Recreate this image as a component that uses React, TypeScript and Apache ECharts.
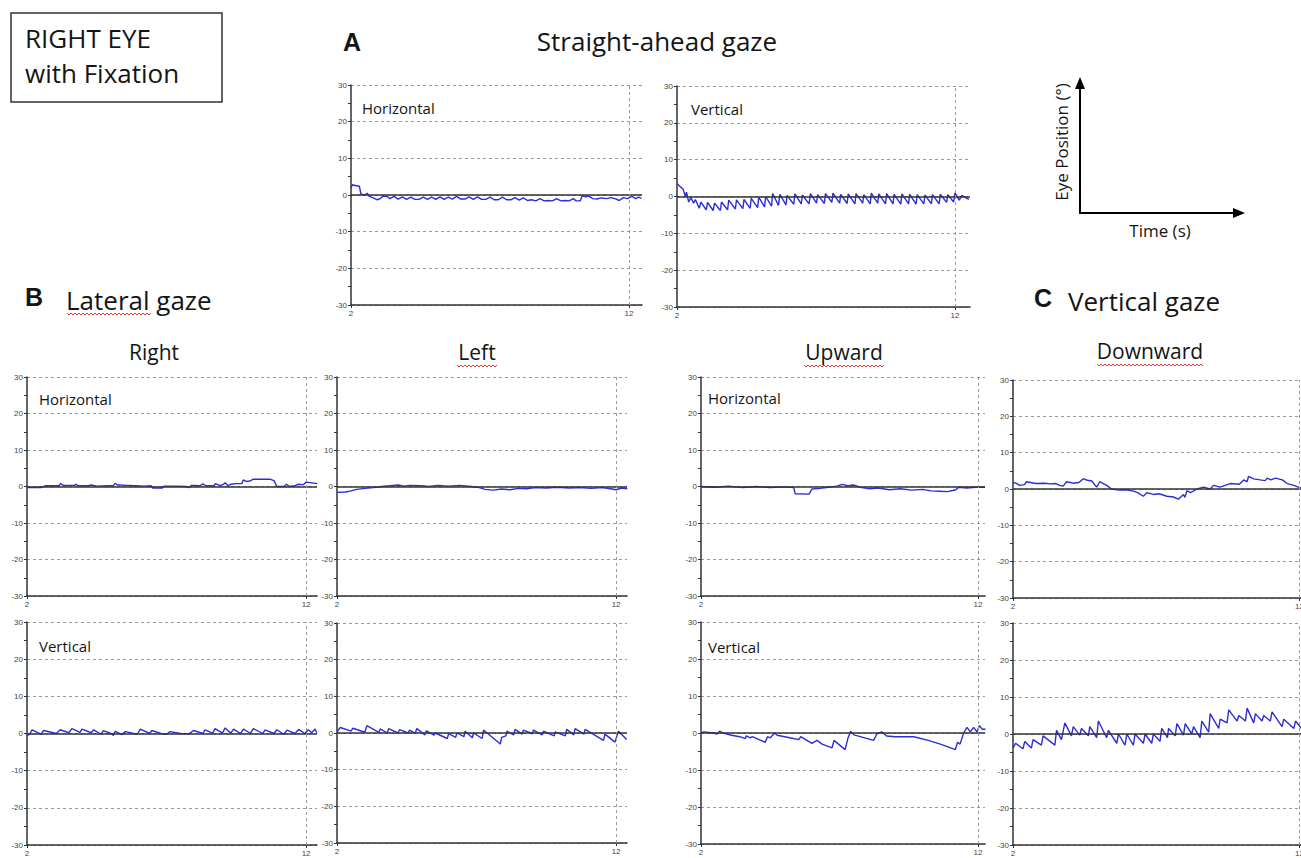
import React, { useEffect, useRef } from 'react';
import * as echarts from 'echarts';

type Pt = [number, number];

// ---- A: straight-ahead gaze ----
const straightHorizontal: Pt[] = [
  [2.0, 2.0], [2.05, 2.8], [2.15, 2.6], [2.3, 2.4], [2.36, 0.2], [2.5, 0.0], [2.58, 0.5], [2.65, -0.3],
  [2.8, -0.8], [2.95, -1.3], [3.05, -1.0], [3.15, -0.3], [3.3, -0.4], [3.4, -1.0], [3.55, -0.4], [3.7, -1.1],
  [3.85, -0.5], [4.0, -1.2], [4.15, -0.6], [4.3, -1.2], [4.45, -1.2], [4.6, -0.6], [4.75, -1.2], [4.9, -0.6],
  [5.05, -1.2], [5.2, -0.5], [5.35, -1.2], [5.5, -0.6], [5.65, -1.1], [5.8, -0.4], [5.95, -1.1], [6.1, -1.1],
  [6.25, -0.5], [6.4, -1.2], [6.55, -0.5], [6.7, -1.2], [6.85, -1.2], [7.0, -0.6], [7.15, -1.3], [7.3, -1.3],
  [7.45, -0.6], [7.6, -1.3], [7.75, -1.3], [7.9, -0.7], [8.05, -1.4], [8.2, -0.8], [8.35, -1.5], [8.5, -1.3],
  [8.65, -1.6], [8.8, -1.0], [8.95, -1.6], [9.1, -1.5], [9.25, -1.6], [9.4, -1.0], [9.55, -1.6], [9.7, -1.5],
  [9.85, -1.6], [10.0, -1.0], [10.1, -1.6], [10.25, -1.6], [10.32, -0.2], [10.45, -0.5], [10.55, -0.3],
  [10.7, -1.0], [10.85, -1.1], [11.0, -0.8], [11.2, -1.0], [11.35, -0.7], [11.5, -1.0], [11.65, -1.5],
  [11.8, -0.7], [11.95, -1.0], [12.1, -0.4], [12.25, -1.0], [12.35, -0.6], [12.45, -0.9],
];

const straightVertical: Pt[] = [
  [2.0, 3.5], [2.1, 2.8], [2.22, 2.0], [2.3, 0.0], [2.34, 1.2], [2.42, -1.5], [2.5, -0.3], [2.6, -1.8],
  [2.66, -0.8], [2.8, -3.2], [2.86, -1.5], [3.05, -3.6], [3.1, -1.6], [3.3, -3.8], [3.35, -1.8], [3.56, -3.8],
  [3.6, -1.5], [3.82, -3.6], [3.86, -1.0], [4.1, -3.4], [4.14, -0.9], [4.37, -3.3], [4.41, -0.8], [4.63, -3.2],
  [4.67, -0.5], [4.9, -3.0], [4.94, -0.2], [5.15, -2.8], [5.19, 0.0], [5.4, -2.6], [5.44, 0.8], [5.65, -2.4],
  [5.7, 0.6], [5.92, -2.3], [5.96, 0.3], [6.2, -2.1], [6.24, 0.7], [6.47, -2.0], [6.51, 0.4], [6.75, -2.0],
  [6.8, 0.8], [7.02, -1.8], [7.06, 0.5], [7.3, -1.9], [7.34, 0.8], [7.57, -1.6], [7.61, 0.9], [7.85, -1.8],
  [7.89, 0.6], [8.12, -1.9], [8.16, 0.7], [8.4, -2.0], [8.44, 0.8], [8.68, -1.8], [8.72, 0.5], [8.95, -2.0],
  [8.99, 0.9], [9.22, -1.8], [9.26, 0.7], [9.5, -2.0], [9.54, 0.8], [9.77, -2.0], [9.81, 0.6], [10.05, -2.1],
  [10.09, 0.7], [10.33, -2.0], [10.37, 0.6], [10.6, -2.1], [10.64, 0.5], [10.88, -2.0], [10.92, 0.4],
  [11.15, -2.0], [11.19, 0.5], [11.43, -2.0], [11.47, 0.6], [11.7, -1.6], [11.74, 0.5], [11.95, -1.5],
  [12.0, 1.0], [12.15, -1.0], [12.25, 0.3], [12.35, -0.2], [12.5, -0.8],
];

// ---- B: lateral gaze ----
const rightHorizontal: Pt[] = [
  [2.0, -0.3], [2.5, -0.3], [2.65, 0.2], [3.15, 0.2], [3.2, 0.8], [3.3, 0.3], [3.7, 0.3], [3.75, 0.6],
  [3.85, 0.2], [4.2, 0.2], [4.3, 0.4], [4.5, 0.1], [4.9, 0.2], [5.1, 0.2], [5.15, 0.9], [5.25, 0.4],
  [5.6, 0.3], [5.9, 0.2], [6.2, 0.1], [6.45, 0.2], [6.5, -0.4], [6.85, -0.4], [6.9, 0.1], [7.3, 0.1],
  [7.7, 0.0], [7.8, -0.3], [7.9, 0.3], [8.2, 0.2], [8.3, 0.7], [8.4, 0.2], [8.7, 0.2], [8.75, 0.8],
  [8.9, 0.3], [9.0, 0.4], [9.1, 1.0], [9.2, 0.2], [9.3, 0.6], [9.5, 0.8], [9.7, 0.8], [9.75, 1.8],
  [9.85, 1.4], [10.0, 1.5], [10.1, 2.0], [10.7, 2.0], [10.85, 1.6], [10.95, 0.0], [11.2, 0.0], [11.3, 0.6],
  [11.4, 0.0], [11.6, 0.2], [11.7, 0.6], [11.9, 0.5], [12.0, 1.2], [12.2, 1.0], [12.4, 0.8],
];

const rightVertical: Pt[] = [
  [2.0, -0.5], [2.1, -0.2], [2.18, 1.0], [2.5, -0.2], [2.6, 0.8], [3.05, 0.0], [3.19, 1.0], [3.5, 0.2],
  [3.61, 1.3], [3.9, 0.3], [3.97, 1.2], [4.3, 0.2], [4.39, 1.0], [4.65, -0.2], [4.74, 0.8], [5.0, 0.0],
  [5.1, -0.5], [5.16, 0.6], [5.4, -0.3], [5.52, 0.5], [5.95, -0.2], [6.06, 1.2], [6.4, 0.0], [6.47, 0.8],
  [6.8, 0.0], [7.0, -0.2], [7.13, 0.5], [7.5, 0.0], [7.8, -0.1], [7.97, 0.8], [8.3, 0.0], [8.38, 1.0],
  [8.65, 0.1], [8.74, 1.3], [9.0, 0.1], [9.1, 1.5], [9.3, 0.1], [9.4, 1.2], [9.65, 0.0], [9.76, 1.2],
  [10.0, 0.0], [10.11, 1.3], [10.45, 0.0], [10.53, 1.0], [10.85, 0.0], [10.95, 1.0], [11.2, -0.2],
  [11.31, 0.9], [11.6, 0.0], [11.73, 1.1], [11.95, 0.0], [12.08, 1.0], [12.2, 0.2], [12.32, 1.2], [12.38, 0.2],
];

const leftHorizontal: Pt[] = [
  [2.0, -1.6], [2.3, -1.5], [2.5, -1.2], [2.7, -0.8], [3.0, -0.5], [3.3, -0.3], [3.6, 0.0], [3.9, 0.2],
  [4.2, 0.4], [4.4, 0.1], [4.6, 0.3], [5.0, 0.2], [5.3, 0.0], [5.6, 0.3], [6.0, 0.1], [6.4, 0.3],
  [6.8, 0.0], [7.1, -0.3], [7.3, -0.8], [7.6, -1.0], [7.9, -0.7], [8.2, -0.9], [8.5, -0.5], [8.8, -0.6],
  [9.1, -0.3], [9.5, -0.4], [9.9, -0.2], [10.3, -0.4], [10.7, -0.3], [11.1, -0.5], [11.5, -0.3],
  [11.8, -0.6], [12.0, -0.9], [12.2, -0.4], [12.4, -0.6],
];

const leftVertical: Pt[] = [
  [2.0, 0.3], [2.12, 1.5], [2.5, 0.5], [2.57, 1.3], [3.0, 0.2], [3.07, 2.0], [3.5, 0.2], [3.55, 1.1],
  [3.8, 0.0], [3.85, 1.2], [4.18, 0.0], [4.24, 0.9], [4.55, 0.0], [4.6, 0.8], [4.8, -0.1], [4.86, 1.2],
  [5.15, -0.5], [5.2, 0.6], [5.48, -0.6], [5.52, 0.0], [5.95, -1.5], [6.0, -0.2], [6.25, -1.2], [6.3, 0.0],
  [6.55, -1.0], [6.59, 0.5], [6.85, -1.3], [6.89, 0.0], [7.2, -1.5], [7.25, 0.8], [7.85, -3.0], [7.9, -1.2],
  [8.05, -0.8], [8.09, 0.5], [8.33, -0.5], [8.38, 1.0], [8.63, -0.3], [8.68, 0.8], [9.0, -0.2], [9.04, 0.8],
  [9.35, -0.5], [9.4, 0.5], [9.78, -0.8], [9.82, 0.3], [10.18, -0.8], [10.23, 1.0], [10.48, -0.5],
  [10.53, 1.2], [10.85, -0.3], [10.89, 1.0], [11.55, -2.0], [11.6, -0.3], [11.96, -2.5], [12.08, 0.5],
  [12.38, -1.8],
];

// ---- C: vertical gaze ----
const upwardHorizontal: Pt[] = [
  [2.0, 0.0], [2.5, -0.2], [3.0, 0.1], [3.5, -0.3], [4.0, 0.0], [4.5, -0.3], [5.0, -0.1], [5.35, -0.3],
  [5.4, -2.0], [5.9, -2.1], [6.0, -0.7], [6.3, -0.5], [6.6, -0.2], [6.9, 0.1], [7.1, 0.6], [7.3, 0.2],
  [7.5, 0.4], [7.8, -0.3], [8.1, -0.6], [8.4, -0.4], [8.8, -0.9], [9.2, -0.6], [9.6, -1.0], [10.0, -0.8],
  [10.3, -1.2], [10.6, -1.3], [10.9, -1.4], [11.2, -0.9], [11.3, -0.2], [11.6, -0.4], [11.9, -0.2],
  [12.25, -0.2],
];

const upwardVertical: Pt[] = [
  [2.0, 0.0], [2.1, 0.3], [2.45, 0.0], [2.58, -0.3], [2.67, 0.5], [2.8, 0.0], [3.1, -0.6], [3.4, -1.0],
  [3.6, -1.5], [3.63, -0.8], [3.78, -1.3], [3.85, -1.0], [4.32, -2.5], [4.4, -1.0], [4.5, -1.3], [4.66, 0.0],
  [4.75, -0.6], [5.2, -1.3], [5.53, -1.8], [5.6, -1.0], [6.0, -2.8], [6.19, -2.0], [6.37, -3.0], [6.73, -4.0],
  [6.8, -2.0], [7.2, -4.5], [7.3, -1.5], [7.4, 0.5], [7.52, -0.5], [8.23, -2.0], [8.35, -0.2], [8.53, 0.3],
  [8.7, -0.8], [9.0, -1.0], [9.68, -1.0], [10.2, -2.0], [10.64, -3.0], [11.18, -4.5], [11.26, -2.5],
  [11.35, -3.0], [11.48, 0.0], [11.6, 1.5], [11.72, 0.3], [11.84, 1.5], [11.96, 0.3], [12.05, 2.0],
  [12.15, 1.0], [12.27, 1.0],
];

const downwardHorizontal: Pt[] = [
  [2.0, 1.8], [2.1, 1.6], [2.23, 1.0], [2.4, 1.2], [2.47, 2.0], [2.8, 1.5], [3.1, 1.6], [3.3, 1.4],
  [3.5, 1.5], [3.62, 1.0], [3.75, 0.8], [3.87, 2.0], [4.1, 1.6], [4.3, 1.8], [4.45, 2.8], [4.6, 2.4],
  [4.75, 2.2], [4.92, 0.5], [5.03, 2.0], [5.15, 1.5], [5.27, 1.0], [5.44, 0.0], [5.7, -0.3], [5.95, -0.2],
  [6.2, -0.6], [6.35, -1.0], [6.55, -2.0], [6.67, -1.0], [6.9, -1.5], [7.1, -1.3], [7.37, -2.0],
  [7.6, -2.2], [7.77, -2.8], [7.95, -1.5], [8.0, -2.3], [8.07, -0.5], [8.2, -1.0], [8.42, 0.0], [8.65, 0.5],
  [8.88, 0.0], [9.0, 1.0], [9.23, 0.5], [9.4, 1.0], [9.58, 1.5], [9.9, 1.3], [10.05, 2.5], [10.17, 2.0],
  [10.22, 3.5], [10.4, 2.8], [10.63, 2.5], [10.8, 2.3], [10.87, 3.0], [11.0, 2.5], [11.16, 3.0],
  [11.4, 2.5], [11.57, 1.5], [11.8, 1.0], [12.0, 0.4], [12.1, 0.2],
];

const downwardVertical: Pt[] = [
  [2.0, -3.8], [2.09, -2.5], [2.35, -4.0], [2.41, -2.0], [2.64, -3.8], [2.7, -1.5], [2.99, -3.0],
  [3.05, -0.5], [3.46, -3.0], [3.52, 1.0], [3.69, -1.5], [3.81, 3.0], [4.04, -0.5], [4.1, 2.0], [4.33, -0.3],
  [4.39, 1.5], [4.63, -0.5], [4.68, 2.0], [4.92, -1.0], [4.98, 3.5], [5.27, -1.0], [5.33, 1.0], [5.62, -2.5],
  [5.68, 0.0], [5.91, -3.0], [5.97, 0.0], [6.2, -3.0], [6.26, 0.0], [6.55, -2.5], [6.61, 0.0], [6.84, -2.5],
  [6.9, 0.0], [7.13, -2.0], [7.19, 1.5], [7.39, -1.0], [7.43, 1.5], [7.66, -0.5], [7.72, 2.8], [7.95, -0.3],
  [8.01, 2.8], [8.24, 0.0], [8.3, 2.0], [8.53, -1.0], [8.59, 3.5], [8.83, 0.5], [8.88, 5.5], [9.18, 1.5],
  [9.23, 4.0], [9.47, 3.0], [9.53, 6.5], [9.82, 3.5], [9.88, 5.0], [10.11, 3.5], [10.17, 7.0], [10.4, 3.0],
  [10.46, 5.5], [10.69, 3.5], [10.75, 5.0], [10.98, 3.5], [11.04, 6.0], [11.39, 2.0], [11.45, 4.0],
  [11.8, 1.5], [11.86, 3.5], [12.07, 1.5],
];

const xTickValues = [2, 12];
const yMin = -30;
const yMax = 30;

interface Panel {
  data: Pt[];
  left: number;
  top: number;
  width: number;
  height: number;
  xMax: number;
}

const panels: Panel[] = [
  { data: straightHorizontal, left: 351, top: 85, width: 291, height: 220, xMax: 12.47 },
  { data: straightVertical, left: 677, top: 86, width: 293, height: 221, xMax: 12.54 },
  { data: rightHorizontal, left: 27, top: 377, width: 290, height: 219, xMax: 12.39 },
  { data: rightVertical, left: 27, top: 622, width: 290, height: 223, xMax: 12.39 },
  { data: leftHorizontal, left: 337, top: 377, width: 290, height: 219, xMax: 12.39 },
  { data: leftVertical, left: 337, top: 623, width: 290, height: 220, xMax: 12.39 },
  { data: upwardHorizontal, left: 701, top: 377, width: 284, height: 219, xMax: 12.25 },
  { data: upwardVertical, left: 701, top: 622, width: 284, height: 222, xMax: 12.25 },
  { data: downwardHorizontal, left: 1013, top: 380, width: 298, height: 218, xMax: 12.4 },
  { data: downwardVertical, left: 1013, top: 623, width: 298, height: 222, xMax: 12.4 },
];

const TRACE = '#2d2dd6';
const AXIS = '#333333';
const GRID = '#9a9a9a';
const TEXT = '#151515';
const FONT = '"Open Sans", "Noto Sans", sans-serif';

function squiggle(x0: number, x1: number, y: number): number[][] {
  const pts: number[][] = [];
  let up = true;
  for (let x = x0; x <= x1; x += 2) {
    pts.push([x, up ? y - 1 : y + 1]);
    up = !up;
  }
  return pts;
}

function txt(text: string, x: number, y: number, size: number, opts: any = {}) {
  return {
    type: 'text',
    x,
    y,
    rotation: opts.rotation || 0,
    style: {
      text,
      fill: TEXT,
      font: `${opts.bold ? 'bold ' : ''}${size}px ${opts.family || FONT}`,
      align: opts.align || 'left',
      verticalAlign: 'middle',
    },
  };
}

export default function App() {
  const ref = useRef<HTMLDivElement>(null);

  useEffect(() => {
    const chart = echarts.init(ref.current!, null, { renderer: 'svg' });

    const grid = panels.map((p) => ({
      left: p.left,
      top: p.top,
      width: p.width,
      height: p.height,
      containLabel: false,
      outerBoundsMode: 'none',
    }));
    const xAxis = panels.map((p, i) => ({
      type: 'value',
      gridIndex: i,
      min: 2,
      max: p.xMax,
      interval: 10,
      axisLine: { show: true, onZero: false, lineStyle: { color: AXIS, width: 1.5 } },
      axisTick: { show: true, length: 3, customValues: xTickValues, lineStyle: { color: AXIS } },
      axisLabel: {
        customValues: xTickValues,
        fontSize: 8,
        color: '#444',
        margin: 4,
        fontFamily: 'Liberation Sans',
      },
      splitLine: { show: false },
    }));
    const yAxis = panels.map((p, i) => ({
      type: 'value',
      gridIndex: i,
      min: yMin,
      max: yMax,
      interval: 10,
      axisLine: { show: true, onZero: false, lineStyle: { color: AXIS, width: 1.5 } },
      axisTick: { show: true, length: 3, lineStyle: { color: AXIS } },
      minorTick: { show: true, splitNumber: 2, length: 3, lineStyle: { color: AXIS } },
      axisLabel: { fontSize: 8, color: '#444', margin: 4, fontFamily: 'Liberation Sans' },
      splitLine: { show: true, lineStyle: { color: GRID, type: [3, 3], width: 1 } },
    }));

    const series: any[] = [];
    panels.forEach((p, i) => {
      series.push({
        type: 'line',
        xAxisIndex: i,
        yAxisIndex: i,
        data: [],
        z: 1,
        silent: true,
        markLine: {
          silent: true,
          symbol: 'none',
          label: { show: false },
          animation: false,
          data: [
            { yAxis: 0, lineStyle: { color: AXIS, type: 'solid', width: 1.5 } },
            { xAxis: 12, lineStyle: { color: GRID, type: [3, 3], width: 1 } },
          ],
        },
      });
      series.push({
        type: 'line',
        xAxisIndex: i,
        yAxisIndex: i,
        data: p.data,
        showSymbol: false,
        symbol: 'none',
        z: 3,
        lineStyle: { color: TRACE, width: 1.4 },
      });
    });

    const red = { stroke: '#e03a3a', lineWidth: 1, fill: 'none' };

    const graphic: any[] = [
      { type: 'rect', shape: { x: 11, y: 13, width: 211, height: 89 }, style: { fill: '#fff', stroke: AXIS, lineWidth: 1.5 } },
      txt('RIGHT EYE', 25, 38, 26),
      txt('with Fixation', 25, 73, 26),
      txt('A', 352, 42, 25, { bold: true, family: '"Liberation Sans", Arial, sans-serif', align: 'center' }),
      txt('Straight-ahead gaze', 657, 41, 26, { align: 'center' }),
      txt('B', 34, 297, 25, { bold: true, family: '"Liberation Sans", Arial, sans-serif', align: 'center' }),
      txt('Lateral gaze', 66, 300, 26),
      txt('C', 1043, 298, 25, { bold: true, family: '"Liberation Sans", Arial, sans-serif', align: 'center' }),
      txt('Vertical gaze', 1068, 301, 26),
      txt('Right', 154, 352, 21, { align: 'center' }),
      txt('Left', 477, 352, 21, { align: 'center' }),
      txt('Upward', 844, 352, 21, { align: 'center' }),
      txt('Downward', 1150, 351, 21, { align: 'center' }),
      txt('Horizontal', 362, 108, 15),
      txt('Vertical', 691, 109, 15),
      txt('Horizontal', 39, 399, 15),
      txt('Vertical', 39, 646, 15),
      txt('Horizontal', 708, 398, 15),
      txt('Vertical', 708, 647, 15),
      { type: 'polyline', shape: { points: squiggle(67, 152, 314) }, style: red },
      { type: 'polyline', shape: { points: squiggle(457, 497, 366) }, style: red },
      { type: 'polyline', shape: { points: squiggle(804, 884, 366) }, style: red },
      { type: 'polyline', shape: { points: squiggle(1097, 1203, 365) }, style: red },
      // eye position inset
      { type: 'line', shape: { x1: 1080, y1: 213, x2: 1080, y2: 86 }, style: { stroke: '#000', lineWidth: 2 } },
      { type: 'line', shape: { x1: 1079, y1: 213, x2: 1236, y2: 213 }, style: { stroke: '#000', lineWidth: 2 } },
      { type: 'polygon', shape: { points: [[1080, 77], [1075, 89], [1085, 89]] }, style: { fill: '#000' } },
      { type: 'polygon', shape: { points: [[1245, 213], [1233, 208], [1233, 218]] }, style: { fill: '#000' } },
      txt('Eye Position (°)', 1061, 142, 17, { rotation: Math.PI / 2, align: 'center' }),
      txt('Time (s)', 1160, 230, 17, { align: 'center' }),
    ];

    chart.setOption({
      animation: false,
      backgroundColor: '#ffffff',
      grid,
      xAxis,
      yAxis,
      series,
      graphic,
    });

    return () => chart.dispose();
  }, []);

  return (
    <div
      ref={ref}
      style={{ position: 'fixed', left: 0, top: 0, width: 1301, height: 858, background: '#fff' }}
    />
  );
}
